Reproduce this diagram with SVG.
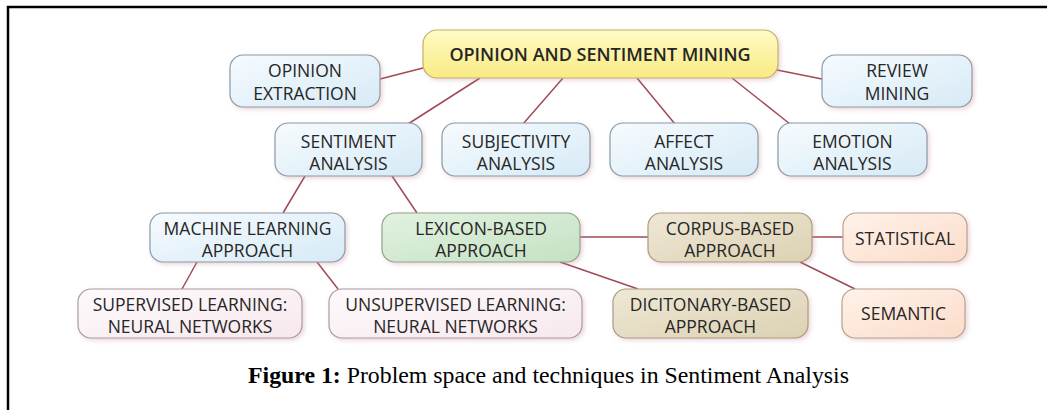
<svg xmlns="http://www.w3.org/2000/svg" width="1047" height="410" viewBox="0 0 1047 410">
  <defs>
    <linearGradient id="gBlue" x1="0" y1="0" x2="1" y2="1">
      <stop offset="0" stop-color="#f6fbfe"/>
      <stop offset="1" stop-color="#d6eaf6"/>
    </linearGradient>
    <linearGradient id="gYellow" x1="0" y1="0" x2="0" y2="1">
      <stop offset="0" stop-color="#fffbc4"/>
      <stop offset="1" stop-color="#f9ea84"/>
    </linearGradient>
    <linearGradient id="gGreen" x1="0" y1="0" x2="1" y2="1">
      <stop offset="0" stop-color="#e2f2e0"/>
      <stop offset="1" stop-color="#c4e1c3"/>
    </linearGradient>
    <linearGradient id="gTan" x1="0" y1="0" x2="1" y2="1">
      <stop offset="0" stop-color="#eee8d6"/>
      <stop offset="1" stop-color="#dcd1b2"/>
    </linearGradient>
    <linearGradient id="gPeach" x1="0" y1="0" x2="1" y2="1">
      <stop offset="0" stop-color="#fff2ea"/>
      <stop offset="1" stop-color="#fbdcc9"/>
    </linearGradient>
    <linearGradient id="gPink" x1="0" y1="0" x2="1" y2="1">
      <stop offset="0" stop-color="#fefafb"/>
      <stop offset="1" stop-color="#f6e8ee"/>
    </linearGradient>
    <filter id="shadow" x="-10%" y="-20%" width="125%" height="150%">
      <feDropShadow dx="2" dy="2" stdDeviation="2" flood-color="#c98a96" flood-opacity="0.35"/>
    </filter>
  </defs>
  <style>
    .box { stroke-width: 1.2; filter: url(#shadow); }
    .blue { fill: url(#gBlue); stroke: #8c9aa6; }
    .yellow { fill: url(#gYellow); stroke: #c2b16e; }
    .green { fill: url(#gGreen); stroke: #8ea48c; }
    .tan { fill: url(#gTan); stroke: #a99c80; }
    .peach { fill: url(#gPeach); stroke: #b9a192; }
    .pink { fill: url(#gPink); stroke: #a99ca2; }
    .lbl { font-family: "Open Sans", "Noto Sans", sans-serif; font-size: 17.5px; fill: #262626; text-anchor: middle; }
    .root { font-weight: 600; font-size: 18px; }
    .edge { stroke: #a04a56; stroke-width: 1.5; fill: none; }
    .frame { stroke: #000; stroke-width: 2.5; fill: none; }
    .cap { font-family: "Liberation Serif", "Times New Roman", serif; font-size: 23.8px; fill: #000; }
  </style>

  <rect width="1047" height="410" fill="#fff"/>

  <!-- page frame -->
  <path class="frame" d="M8 410 V7 H1047"/>

  <!-- connectors -->
  <g id="connectors">
    <line class="edge" x1="423" y1="68" x2="380" y2="79"/>
    <line class="edge" x1="777" y1="70" x2="822" y2="79"/>
    <line class="edge" x1="480" y1="78" x2="408" y2="124"/>
    <line class="edge" x1="563" y1="78" x2="523" y2="124"/>
    <line class="edge" x1="637" y1="78" x2="675" y2="124"/>
    <line class="edge" x1="732" y1="78" x2="790" y2="124"/>
    <line class="edge" x1="305" y1="176" x2="283" y2="213"/>
    <line class="edge" x1="392" y1="176" x2="417" y2="213"/>
    <line class="edge" x1="197" y1="262" x2="182" y2="289"/>
    <line class="edge" x1="317" y1="262" x2="338" y2="289"/>
    <line class="edge" x1="580" y1="237" x2="648" y2="237"/>
    <line class="edge" x1="812" y1="237" x2="843" y2="237"/>
    <line class="edge" x1="560" y1="262" x2="638" y2="289"/>
    <line class="edge" x1="800" y1="262" x2="855" y2="289"/>
  </g>

  <g id="root">
    <rect class="box yellow" x="423" y="30" width="355" height="48" rx="14"/>
    <text class="lbl root" x="600" y="60.5">OPINION AND SENTIMENT MINING</text>
  </g>

  <g id="opinion-extraction">
    <rect class="box blue" x="230" y="55" width="150" height="52" rx="13"/>
    <text class="lbl" x="305" y="77">OPINION</text>
    <text class="lbl" x="305" y="100">EXTRACTION</text>
  </g>

  <g id="review-mining">
    <rect class="box blue" x="822" y="55" width="150" height="52" rx="13"/>
    <text class="lbl" x="897" y="77">REVIEW</text>
    <text class="lbl" x="897" y="100">MINING</text>
  </g>

  <g id="sentiment-analysis">
    <rect class="box blue" x="275" y="123" width="147" height="53" rx="13"/>
    <text class="lbl" x="348.5" y="147.5">SENTIMENT</text>
    <text class="lbl" x="348.5" y="170">ANALYSIS</text>
  </g>

  <g id="subjectivity-analysis">
    <rect class="box blue" x="442" y="123" width="148" height="53" rx="13"/>
    <text class="lbl" x="516" y="147.5">SUBJECTIVITY</text>
    <text class="lbl" x="516" y="170">ANALYSIS</text>
  </g>

  <g id="affect-analysis">
    <rect class="box blue" x="610" y="123" width="148" height="53" rx="13"/>
    <text class="lbl" x="684" y="147.5">AFFECT</text>
    <text class="lbl" x="684" y="170">ANALYSIS</text>
  </g>

  <g id="emotion-analysis">
    <rect class="box blue" x="778" y="123" width="149" height="53" rx="13"/>
    <text class="lbl" x="852.5" y="147.5">EMOTION</text>
    <text class="lbl" x="852.5" y="170">ANALYSIS</text>
  </g>

  <g id="machine-learning">
    <rect class="box blue" x="150" y="213" width="195" height="49" rx="13"/>
    <text class="lbl" x="247.5" y="235">MACHINE LEARNING</text>
    <text class="lbl" x="247.5" y="257">APPROACH</text>
  </g>

  <g id="lexicon-based">
    <rect class="box green" x="382" y="213" width="198" height="49" rx="13"/>
    <text class="lbl" x="481" y="235">LEXICON-BASED</text>
    <text class="lbl" x="481" y="257">APPROACH</text>
  </g>

  <g id="corpus-based">
    <rect class="box tan" x="648" y="213" width="164" height="49" rx="13"/>
    <text class="lbl" x="730" y="235">CORPUS-BASED</text>
    <text class="lbl" x="730" y="257">APPROACH</text>
  </g>

  <g id="statistical">
    <rect class="box peach" x="843" y="213" width="124" height="49" rx="13"/>
    <text class="lbl" x="905" y="244.5">STATISTICAL</text>
  </g>

  <g id="supervised">
    <rect class="box pink" x="78" y="289" width="224" height="49" rx="13"/>
    <text class="lbl" x="190" y="311">SUPERVISED LEARNING:</text>
    <text class="lbl" x="190" y="333">NEURAL NETWORKS</text>
  </g>

  <g id="unsupervised">
    <rect class="box pink" x="329" y="289" width="253" height="49" rx="13"/>
    <text class="lbl" x="455.5" y="311">UNSUPERVISED LEARNING:</text>
    <text class="lbl" x="455.5" y="333">NEURAL NETWORKS</text>
  </g>

  <g id="dictionary-based">
    <rect class="box tan" x="613" y="289" width="195" height="49" rx="13"/>
    <text class="lbl" x="710.5" y="311">DICITONARY-BASED</text>
    <text class="lbl" x="710.5" y="333">APPROACH</text>
  </g>

  <g id="semantic">
    <rect class="box peach" x="842" y="289" width="123" height="49" rx="13"/>
    <text class="lbl" x="903.5" y="320">SEMANTIC</text>
  </g>

  <text class="cap" x="248" y="383"><tspan font-weight="bold">Figure 1:</tspan> Problem space and techniques in Sentiment Analysis</text>
</svg>
